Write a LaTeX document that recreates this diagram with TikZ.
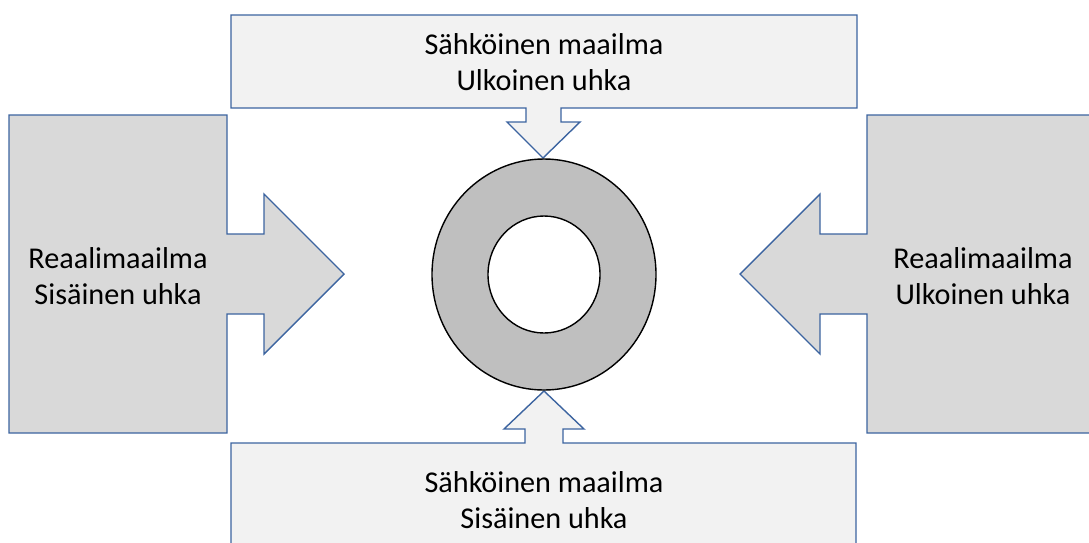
\documentclass[tikz,border=0pt]{standalone}
\usepackage{fontspec}
\setmainfont{Carlito}
\definecolor{edgeblue}{HTML}{3C64A0}
\definecolor{lightfill}{HTML}{F2F2F2}
\definecolor{midfill}{HTML}{D9D9D9}
\definecolor{ringfill}{HTML}{BFBFBF}
\begin{document}
\begin{tikzpicture}[x=1pt,y=-1pt,
  callout/.style={draw=edgeblue,line width=1.4pt,line join=miter},
  label/.style={align=center,inner sep=0pt,font=\fontsize{30.2}{36}\selectfont,text=black},
  ring/.style={draw=black,line width=1.4pt}]
\useasboundingbox (0,0) rectangle (1089,542);
\clip (0,0) rectangle (1089,542);

% top callout, pointing down
\draw[callout,fill=lightfill] (231,15) -- (857,15) -- (857,108) -- (561,108) -- (561,122)
  -- (580,122) -- (543,158) -- (507,122) -- (526,122) -- (526,108) -- (231,108) -- cycle;
% bottom callout, pointing up
\draw[callout,fill=lightfill] (231,443) -- (525,443) -- (525,429) -- (504,429) -- (544,391)
  -- (584,429) -- (563,429) -- (563,443) -- (856,443) -- (856,560) -- (231,560) -- cycle;
% left callout, pointing right
\draw[callout,fill=midfill] (9,115) -- (227,115) -- (227,234) -- (264,234) -- (264,194)
  -- (344,274) -- (264,354) -- (264,314) -- (227,314) -- (227,433) -- (9,433) -- cycle;
% right callout, pointing left
\draw[callout,fill=midfill] (1099,115) -- (867,115) -- (867,234) -- (820,234) -- (820,194)
  -- (740,274) -- (820,354) -- (820,314) -- (867,314) -- (867,433) -- (1099,433) -- cycle;

% ring in the middle
\fill[ringfill,even odd rule] (544,274.5) ellipse [x radius=112,y radius=115.5]
  (544,274.5) ellipse [x radius=56,y radius=58.5];
\draw[ring] (544,274.5) ellipse [x radius=112,y radius=115.5];
\draw[ring,fill=white] (544,274.5) ellipse [x radius=56,y radius=58.5];

\node[label] (top) at (544,62) {Sähköinen maailma\\Ulkoinen uhka};
\node[label] (bottom) at (544,500) {Sähköinen maailma\\Sisäinen uhka};
\node[label] (left) at (118,276) {Reaalimaailma\\Sisäinen uhka};
\node[label] (right) at (983,276) {Reaalimaailma\\Ulkoinen uhka};
\end{tikzpicture}
\end{document}
